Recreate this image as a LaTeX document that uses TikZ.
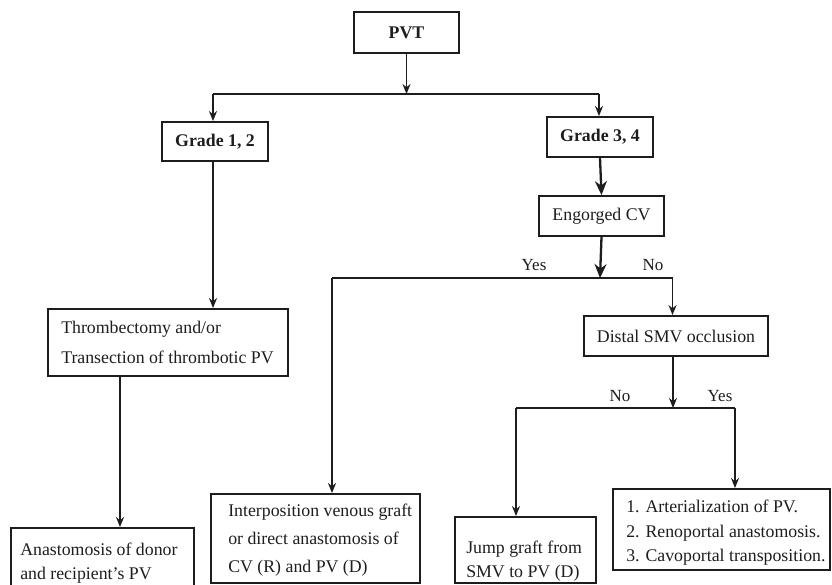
\documentclass[tikz,border=0pt]{standalone}
\usepackage{fontspec}
\setmainfont{Liberation Serif}
\usetikzlibrary{arrows.meta,calc}
\definecolor{ink}{rgb}{0.12,0.11,0.11}
\tikzset{
  bx/.style={draw=ink, line width=1.9pt, inner sep=0pt, text=ink},
  txt/.style={anchor=west, align=left, inner sep=0pt, text=ink},
  lbl/.style={inner sep=0pt, text=ink, font=\fontsize{17}{20}\selectfont},
  arr/.style={draw=ink, line width=1.7pt, -{Stealth[length=10pt,width=8pt]}},
  arrb/.style={draw=ink, line width=2.3pt, -{Stealth[length=14pt,width=12pt]}},
  ln/.style={draw=ink, line width=1.7pt}
}
\begin{document}
\begin{tikzpicture}[x=1pt,y=-1pt]
\useasboundingbox (0,0) rectangle (832,584);
\clip (0,0) rectangle (832,584);
% boxes
\node[bx, minimum width=105pt, minimum height=41pt, font=\fontsize{17.8}{20}\selectfont\bfseries] (pvt) at (406.5,32.5) {PVT};
\node[bx, minimum width=106pt, minimum height=39pt, font=\fontsize{17.8}{20}\selectfont\bfseries] (g12) at (215,141.5) {Grade 1, 2};
\node[bx, minimum width=106pt, minimum height=40pt, font=\fontsize{17.8}{20}\selectfont\bfseries] (g34) at (600,137) {Grade 3, 4};
\node[bx, minimum width=125pt, minimum height=40pt, font=\fontsize{17.8}{20}\selectfont] (eng) at (601.5,216) {Engorged CV};
\node[bx, minimum width=184pt, minimum height=40pt, font=\fontsize{17.8}{20}\selectfont] (dist) at (676,336) {Distal SMV occlusion};
\node[bx, minimum width=240pt, minimum height=67pt] (thr) at (168,342.5) {};
\node[txt, font=\fontsize{17.8}{30}\selectfont] (thrt) at ([xshift=14pt]thr.west) {Thrombectomy and/or\\Transection of thrombotic PV};
\node[bx, minimum width=183pt, minimum height=70pt] (ana) at (102.5,563) {};
\node[txt, font=\fontsize{17.8}{24}\selectfont] (anat) at ([xshift=10pt]ana.west) {Anastomosis of donor\\and recipient’s PV};
\node[bx, minimum width=209pt, minimum height=89pt] (int) at (315.5,538.5) {};
\node[txt, font=\fontsize{17.8}{28}\selectfont] (intt) at ([xshift=18pt,yshift=-1.5pt]int.west) {Interposition venous graft\\or direct anastomosis of\\CV (R) and PV (D)};
\node[bx, minimum width=141pt, minimum height=66pt] (jmp) at (525.5,550) {};
\node[txt, font=\fontsize{17.8}{24}\selectfont] (jmpt) at ([xshift=12pt,yshift=-11pt]jmp.west) {Jump graft from\\SMV to PV (D)};
\node[bx, minimum width=217pt, minimum height=81pt] (num) at (721.5,529.5) {};
\node[txt, font=\fontsize{17.8}{24.5}\selectfont] (numt) at ([xshift=14pt,yshift=-3.5pt]num.west) {1. Arterialization of PV.\\2. Renoportal anastomosis.\\3. Cavoportal transposition.};
% junctions
\coordinate (h1) at (406.5,94);
\coordinate (h1l) at (213,94);
\coordinate (h1r) at (599,94);
\coordinate (h2) at (600,278);
\coordinate (h2l) at (332,278);
\coordinate (h2r) at (672.5,278);
\coordinate (h3) at (673,408);
\coordinate (h3l) at (516,408);
\coordinate (h3r) at (735,408);
\coordinate (t1) at (120,376);
% connectors
\draw[arr] (pvt.south) -- (h1);
\draw[ln] (h1l) -- (h1r);
\draw[arr] (h1l) -- (h1l |- g12.north);
\draw[arr] (h1r) -- (h1r |- g34.north);
\draw[arrb] (g34.south) -- (eng.north);
\draw[arrb] (eng.south) -- (h2);
\draw[ln] (h2l) -- (h2r);
\draw[arr] (h2r) -- (h2r |- dist.north);
\draw[arr] (h2l) -- (h2l |- int.north);
\draw[arr] (h1l |- g12.south) -- (h1l |- thr.north);
\draw[arr] (t1 |- thr.south) -- (t1 |- ana.north);
\draw[arr] (h3 |- dist.south) -- (h3);
\draw[ln] (h3l) -- (h3r);
\draw[arr] (h3l) -- (h3l |- jmp.north);
\draw[arr] (h3r) -- (h3r |- num.north);
% labels
\node[lbl] (yes1) at (534,265) {Yes};
\node[lbl] (no1) at (653,265) {No};
\node[lbl] (no2) at (620,396) {No};
\node[lbl] (yes2) at (720,396) {Yes};
\end{tikzpicture}
\end{document}
